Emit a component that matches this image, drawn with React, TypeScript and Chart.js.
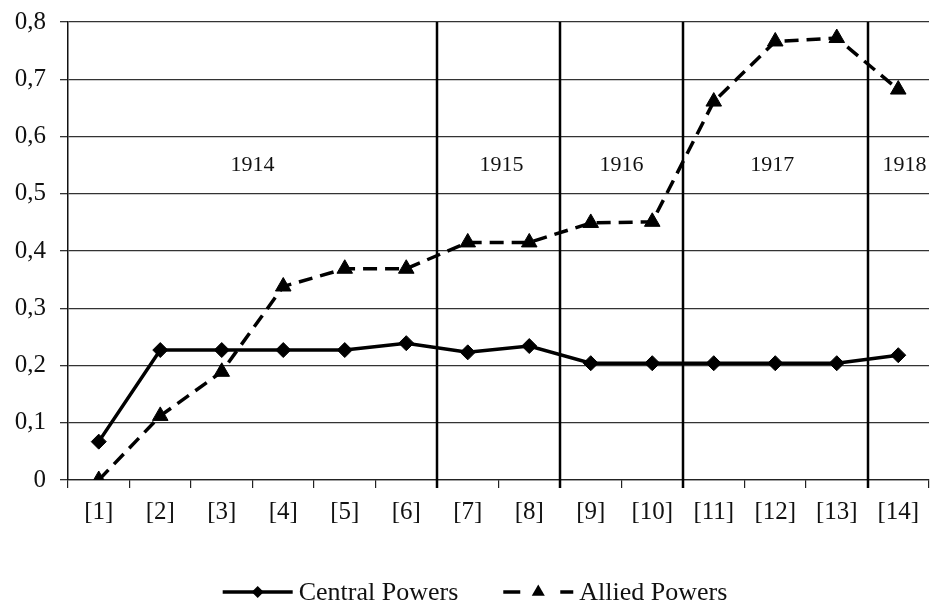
import { useEffect, useRef } from 'react';
import { Chart, registerables } from 'chart.js';

Chart.register(...registerables);

const categories = ['[1]', '[2]', '[3]', '[4]', '[5]', '[6]', '[7]', '[8]', '[9]', '[10]', '[11]', '[12]', '[13]', '[14]'];
const centralPowers = [0.067, 0.227, 0.227, 0.227, 0.227, 0.239, 0.223, 0.234, 0.204, 0.204, 0.204, 0.204, 0.204, 0.218];
const alliedPowers = [0.0, 0.112, 0.189, 0.338, 0.369, 0.369, 0.415, 0.415, 0.449, 0.451, 0.661, 0.766, 0.772, 0.682];
const yTickLabels = ['0', '0,1', '0,2', '0,3', '0,4', '0,5', '0,6', '0,7', '0,8'];
const yearLabels = ['1914', '1915', '1916', '1917', '1918'];
const yearLabelIndex = [2.5, 6.55, 8.5, 10.95, 13.1];
const yearLabelValue = 0.55;
const yearBoundaryIndex = [5.5, 7.5, 9.5, 12.5];

const FONT = "'Liberation Serif', 'Times New Roman', serif";

const fitRightPlugin = {
  id: 'fitRight',
  afterLayout(chart: any) {
    const target = chart.width - 1;
    const ca = chart.chartArea;
    ca.right = target;
    ca.width = target - ca.left;
    const x = chart.scales.x;
    x.right = target;
    x.width = target - x.left;
    x.configure();
  },
};

const yearPlugin = {
  id: 'yearPlugin',
  beforeDatasetsDraw(chart: any) {
    const { ctx, chartArea, scales } = chart;
    const x = scales.x;
    const y = scales.y;
    ctx.save();
    ctx.strokeStyle = '#000';
    ctx.lineWidth = 2.5;
    yearBoundaryIndex.forEach((b) => {
      const px = Math.round(x.getPixelForValue(b));
      ctx.beginPath();
      ctx.moveTo(px, chartArea.top);
      ctx.lineTo(px, chartArea.bottom + 8);
      ctx.stroke();
    });
    ctx.fillStyle = '#111';
    ctx.font = `22px ${FONT}`;
    ctx.textAlign = 'center';
    ctx.textBaseline = 'middle';
    const py = y.getPixelForValue(yearLabelValue);
    yearLabels.forEach((lab, i) => {
      ctx.fillText(lab, x.getPixelForValue(yearLabelIndex[i]), py);
    });
    ctx.restore();
  },
};

const legendPlugin = {
  id: 'customLegend',
  afterDraw(chart: any) {
    const { ctx, width } = chart;
    const ds = chart.data.datasets;
    ctx.save();
    ctx.font = `26px ${FONT}`;
    ctx.textBaseline = 'middle';
    ctx.textAlign = 'left';
    const sample = 70;
    const gap = 6;
    const between = 45;
    const widths = ds.map((d: any) => ctx.measureText(d.label).width);
    const total = widths.reduce((a: number, w: number) => a + sample + gap + w, 0) + between * (ds.length - 1);
    let x0 = (width - total) / 2 + 10;
    const yy = 592;
    ds.forEach((d: any, i: number) => {
      ctx.strokeStyle = '#000';
      ctx.fillStyle = '#000';
      ctx.lineWidth = 3.5;
      if (d.borderDash && d.borderDash.length) {
        ctx.beginPath();
        ctx.moveTo(x0, yy);
        ctx.lineTo(x0 + 17, yy);
        ctx.moveTo(x0 + sample - 13, yy);
        ctx.lineTo(x0 + sample, yy);
        ctx.stroke();
      } else {
        ctx.beginPath();
        ctx.moveTo(x0, yy);
        ctx.lineTo(x0 + sample, yy);
        ctx.stroke();
      }
      const cx = x0 + sample / 2;
      ctx.beginPath();
      if (d.pointStyle === 'rectRot') {
        const r = 6;
        ctx.moveTo(cx, yy - r);
        ctx.lineTo(cx + r, yy);
        ctx.lineTo(cx, yy + r);
        ctx.lineTo(cx - r, yy);
      } else {
        const r = 7.5;
        ctx.moveTo(cx, yy - r);
        ctx.lineTo(cx + r * 0.87, yy + r * 0.5);
        ctx.lineTo(cx - r * 0.87, yy + r * 0.5);
      }
      ctx.closePath();
      ctx.fill();
      ctx.fillStyle = '#111';
      ctx.fillText(d.label, x0 + sample + gap, yy + 1);
      x0 += sample + gap + widths[i] + between;
    });
    ctx.restore();
  },
};

export default function App() {
  const ref = useRef<HTMLCanvasElement | null>(null);
  useEffect(() => {
    if (!ref.current) return;
    const chart = new Chart(ref.current, {
      type: 'line',
      data: {
        labels: categories,
        datasets: [
          {
            label: 'Central Powers',
            data: centralPowers,
            borderColor: '#000',
            backgroundColor: '#000',
            borderWidth: 3.5,
            pointStyle: 'rectRot',
            pointRadius: 7.5,
            pointBorderWidth: 1,
            tension: 0,
          },
          {
            label: 'Allied Powers',
            data: alliedPowers,
            borderColor: '#000',
            backgroundColor: '#000',
            borderWidth: 3.5,
            borderDash: [14, 8],
            pointStyle: 'triangle',
            pointRadius: 9,
            pointBorderWidth: 1,
            tension: 0,
          },
        ],
      },
      options: {
        animation: false,
        responsive: false,
        layout: { padding: { top: 22, right: 1, left: 0, bottom: 0 } },
        plugins: { legend: { display: false }, tooltip: { enabled: false } },
        scales: {
          x: {
            offset: true,
            grid: { display: true, offset: true, drawOnChartArea: false, drawTicks: true, tickLength: 8, color: '#222', lineWidth: 1.2 },
            border: { display: true, color: '#222', width: 1.2 },
            ticks: { color: '#111', font: { family: FONT, size: 25 }, padding: 9, maxRotation: 0, autoSkip: false },
            afterFit: (s: any) => { s.height = 125; s.paddingLeft = 0; s.paddingRight = 0; },
          },
          y: {
            min: 0,
            max: 0.8,
            grid: { color: '#333', lineWidth: 1.3, tickLength: 8 },
            border: { display: true, color: '#111', width: 1.5 },
            ticks: {
              stepSize: 0.1,
              color: '#111',
              font: { family: FONT, size: 25 },
              padding: 14,
              callback: (_v: any, i: number) => yTickLabels[i],
            },
            afterFit: (s: any) => { s.width = 68; s.paddingTop = 0; s.paddingBottom = 0; },
          },
        },
      },
      plugins: [fitRightPlugin, yearPlugin, legendPlugin],
    });
    return () => chart.destroy();
  }, []);
  return (
    <div style={{ position: 'fixed', left: 0, top: 0, width: 930, height: 605, background: '#fff' }}>
      <canvas ref={ref} width={930} height={605} style={{ display: 'block' }} />
    </div>
  );
}
